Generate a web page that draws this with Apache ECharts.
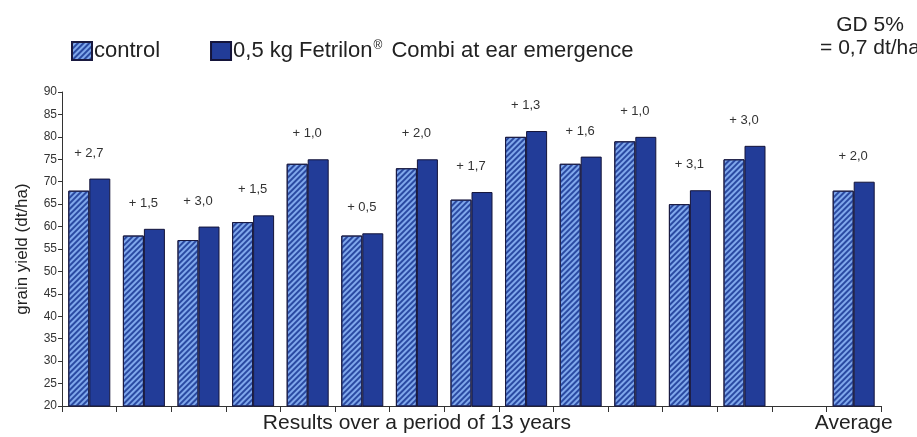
<!DOCTYPE html>
<html>
<head>
<meta charset="utf-8">
<script src="https://cdn.jsdelivr.net/npm/echarts@6/dist/echarts.min.js"></script>
<style>
  html, body { margin: 0; padding: 0; background: #fff; }
  #chart { width: 917px; height: 437px; }
</style>
</head>
<body>
<div id="chart"></div>
<script>
// categories: 13 trial years, one empty slot, then the average
const categories = ['', '', '', '', '', '', 'Results over a period of 13 years', '', '', '', '', '', '', '', 'Average'];
const controlValues = [68, 58, 57, 61, 74, 58, 73, 66, 80, 74, 79, 65, 75, null, 68];
const fetrilonValues = [70.7, 59.5, 60, 62.5, 75, 58.5, 75, 67.7, 81.3, 75.6, 80, 68.1, 78, null, 70];
const diffLabels = ['+ 2,7', '+ 1,5', '+ 3,0', '+ 1,5', '+ 1,0', '+ 0,5', '+ 2,0', '+ 1,7', '+ 1,3', '+ 1,6', '+ 1,0', '+ 3,1', '+ 3,0', '', '+ 2,0'];
const yTicks = { min: 20, max: 90, interval: 5 };

const chart = echarts.init(document.getElementById('chart'), null, { renderer: 'canvas' });

const option = {
    animation: false,
    textStyle: { fontFamily: 'Liberation Sans, Arial, sans-serif' },
    title: {
        text: 'GD 5%\n= 0,7 dt/ha',
        left: 865,
        top: 9,
        textAlign: 'center',
        textStyle: { fontSize: 21, fontWeight: 'normal', color: '#222', lineHeight: 23 }
    },
    legend: {
        left: 66,
        top: 35,
        icon: 'rect',
        itemWidth: 20,
        itemHeight: 18,
        itemGap: 50,
        formatter: name => name.replace('®', '{sup|®}'),
        textStyle: {
            fontSize: 22, color: '#222', padding: [0, 0, 0, -3],
            rich: { sup: { fontSize: 12, verticalAlign: 'top', padding: [0, 3, 8, 1], color: '#222' } }
        }
    },
    grid: { left: 62, right: 36, top: 92, bottom: 31 },
    xAxis: {
        type: 'category',
        data: categories,
        axisLine: { lineStyle: { color: '#333', width: 1 } },
        axisTick: { show: true, length: 6, lineStyle: { color: '#333' } },
        axisLabel: { interval: 0, fontSize: 21, color: '#222', margin: 7 }
    },
    yAxis: {
        type: 'value',
        min: yTicks.min,
        max: yTicks.max,
        interval: yTicks.interval,
        name: 'grain yield (dt/ha)',
        nameLocation: 'middle',
        nameGap: 31,
        nameTextStyle: { fontSize: 17, color: '#222' },
        axisLine: { show: true, lineStyle: { color: '#333' } },
        axisTick: { show: true, length: 4, lineStyle: { color: '#333' } },
        axisLabel: { fontSize: 12, color: '#333', margin: 5 },
        splitLine: { show: false }
    },
    series: [
        {
            name: 'control',
            type: 'bar',
            data: controlValues,
            barWidth: 21,
            barGap: '0%',
            itemStyle: {
                color: '#80a8ec',
                borderColor: '#1a1a40',
                borderWidth: 1,
                decal: {
                    symbol: 'rect',
                    symbolSize: 1,
                    dashArrayX: [1, 0],
                    dashArrayY: [2, 2],
                    rotation: -Math.PI / 4,
                    color: '#2a4aa2'
                }
            }
        },
        {
            name: '0,5 kg Fetrilon® Combi at ear emergence',
            type: 'bar',
            data: fetrilonValues,
            barWidth: 21,
            barGap: '0%',
            itemStyle: { color: '#223c98', borderColor: '#14143a', borderWidth: 1 },
            label: {
                show: true,
                position: 'top',
                offset: [-11, -14],
                fontSize: 13,
                color: '#333',
                formatter: p => diffLabels[p.dataIndex]
            }
        }
    ]
};

chart.setOption(option);
</script>
</body>
</html>
